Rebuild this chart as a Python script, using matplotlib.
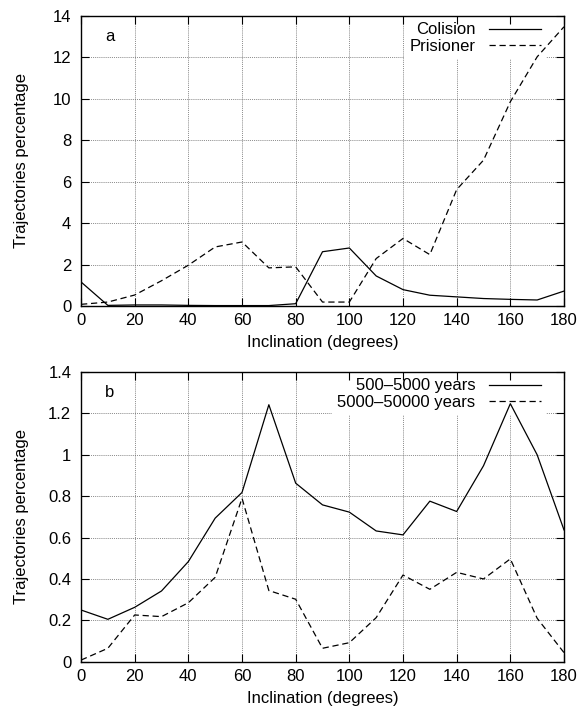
import matplotlib
matplotlib.use("Agg")
import matplotlib.pyplot as plt
import numpy as np

plt.rcParams['font.family'] = ['Liberation Sans', 'DejaVu Sans']
plt.rcParams['font.size'] = 12

# Data
incl = np.arange(0, 181, 10)

colision = [1.16, 0.03, 0.05, 0.05, 0.03, 0.02, 0.02, 0.02, 0.11, 2.62, 2.80,
            1.45, 0.79, 0.52, 0.44, 0.36, 0.32, 0.29, 0.72]
prisioner = [0.08, 0.19, 0.53, 1.22, 1.97, 2.85, 3.09, 1.84, 1.89, 0.19, 0.19,
             2.29, 3.26, 2.48, 5.62, 7.04, 9.86, 12.03, 13.48]

short_t = [0.25, 0.205, 0.263, 0.342, 0.484, 0.694, 0.818, 1.242, 0.863, 0.758,
           0.723, 0.632, 0.613, 0.776, 0.726, 0.947, 1.247, 1.0, 0.637]
long_t = [0.008, 0.065, 0.226, 0.218, 0.285, 0.408, 0.79, 0.344, 0.302, 0.065,
          0.092, 0.213, 0.419, 0.35, 0.432, 0.40, 0.497, 0.21, 0.044]

xticks = np.arange(0, 181, 20)
yticks_a = np.arange(0, 15, 2)
yticks_b = [0, 0.2, 0.4, 0.6, 0.8, 1, 1.2, 1.4]
yticklabels_b = ['0', '0.2', '0.4', '0.6', '0.8', '1', '1.2', '1.4']

fig = plt.figure(figsize=(5.8, 7.21), dpi=100)
ax1 = fig.add_axes([0.1397, 0.5756, 0.8327, 0.4022])
ax2 = fig.add_axes([0.1397, 0.0822, 0.8327, 0.4018])

dash = (0, (5, 3))

def style(ax, yticks, ylim, ylabels=None):
    ax.set_xlim(0, 180)
    ax.set_ylim(*ylim)
    ax.set_xticks(xticks)
    ax.set_yticks(yticks)
    if ylabels is not None:
        ax.set_yticklabels(ylabels)
    # grid drawn behind the legend box
    for xv in xticks[1:-1]:
        ax.axvline(xv, color='#666666', lw=0.6, ls=(0, (1, 1.3)), zorder=0.5)
    for yv in yticks[1:-1]:
        ax.axhline(yv, color='#666666', lw=0.6, ls=(0, (1, 1.3)), zorder=0.5)
    ax.tick_params(direction='in', top=True, right=True, length=5.5, width=0.8,
                   labelsize=12)
    ax.tick_params(axis='x', pad=5)
    ax.tick_params(axis='y', pad=7)
    for s in ax.spines.values():
        s.set_linewidth(1.0)
    ax.set_xlabel('Inclination (degrees)', labelpad=5)
    ax.set_ylabel('Trajectories percentage')
    ax.yaxis.set_label_coords(-0.108, 0.5)

def legend(ax):
    leg = ax.legend(loc='upper right', bbox_to_anchor=(0.963, 0.995),
                    markerfirst=False, frameon=True,
                    facecolor='white', edgecolor='none', framealpha=1,
                    handlelength=3.1, handletextpad=0.85, borderpad=0.3,
                    labelspacing=0.08, fancybox=False, borderaxespad=0)
    leg.set_zorder(1)
    return leg

style(ax1, yticks_a, (0, 14))
ax1.plot(incl, colision, color='black', lw=0.9, label='Colision', zorder=2)
ax1.plot(incl, prisioner, color='black', lw=0.9, ls=dash, label='Prisioner', zorder=2)
ax1.text(0.06, 0.928, 'a', transform=ax1.transAxes, ha='center', va='center')
legend(ax1)

style(ax2, yticks_b, (0, 1.4), yticklabels_b)
ax2.plot(incl, short_t, color='black', lw=0.9, label='500\u20135000 years', zorder=2)
ax2.plot(incl, long_t, color='black', lw=0.9, ls=dash, label='5000\u201350000 years', zorder=2)
ax2.text(0.06, 0.93, 'b', transform=ax2.transAxes, ha='center', va='center')
legend(ax2)

fig.savefig('out.png', dpi=100)
